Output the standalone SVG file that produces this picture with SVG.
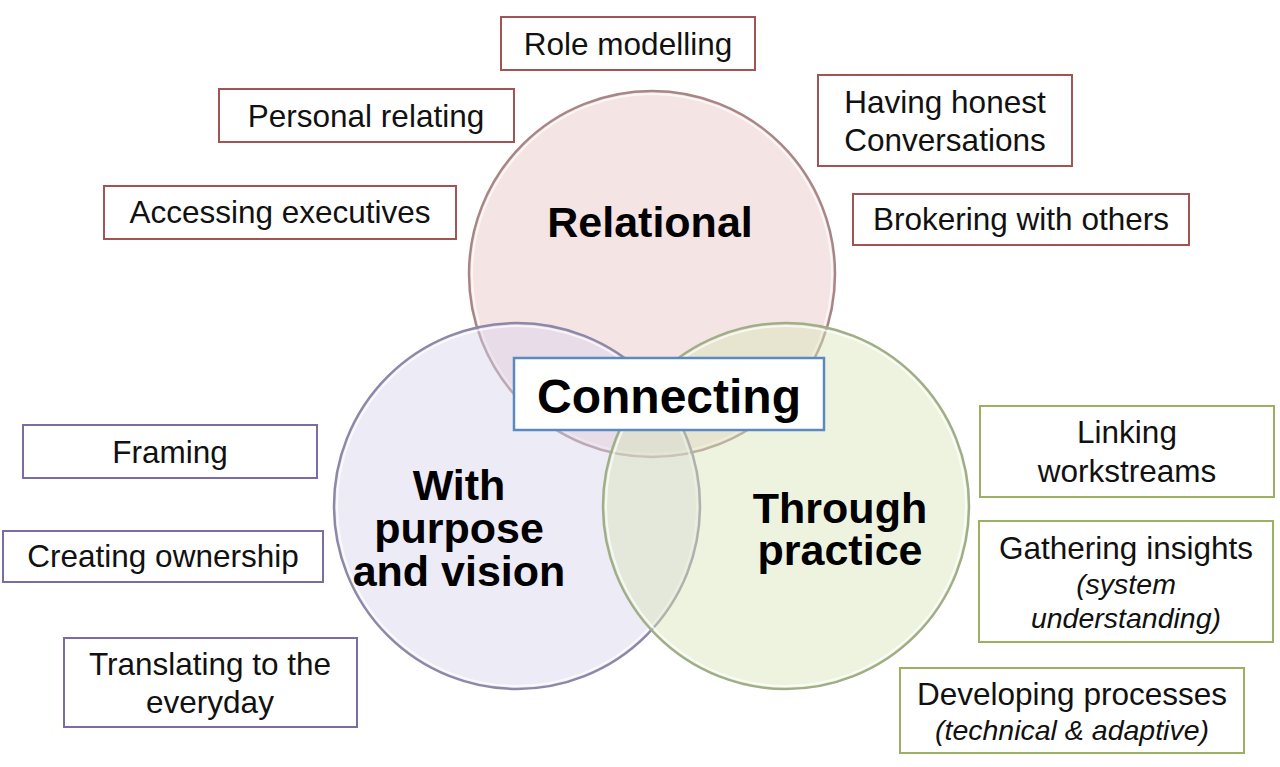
<svg xmlns="http://www.w3.org/2000/svg" width="1280" height="767" viewBox="0 0 1280 767">
<style>
.bg{fill:#ffffff}
.box{fill:#ffffff;stroke-width:2}
.rel{stroke:#a05554}
.pur{stroke:#7c6ca6}
.grn{stroke:#9bb060}
.t{font-family:"Liberation Sans",Arial,sans-serif;font-size:31.5px;fill:#111;text-anchor:middle}
.ti{font-family:"Liberation Sans",Arial,sans-serif;font-size:28.5px;font-style:italic;fill:#111;text-anchor:middle}
.b{font-family:"Liberation Sans",Arial,sans-serif;font-weight:bold;font-size:43px;fill:#000;text-anchor:middle}
.circ{stroke-width:2.5;fill-opacity:0.45}
.hl{fill:none;stroke:#ffffff;stroke-width:2;stroke-opacity:0.7}
</style>
<rect class="bg" x="0" y="0" width="1280" height="767"/>
<g id="circles">
<g id="circle-relational">
<circle class="circ" cx="652" cy="274" r="183" fill="#e8c4c4" stroke="#a88686"/>
<circle class="hl" cx="652" cy="274" r="180"/>
</g>
<g id="circle-purpose">
<circle class="circ" cx="517" cy="506" r="183" fill="#d6d2ea" stroke="#8e88a8"/>
<circle class="hl" cx="517" cy="506" r="180"/>
</g>
<g id="circle-practice">
<circle class="circ" cx="786" cy="506" r="183" fill="#d8e4b8" stroke="#a0ae88"/>
<circle class="hl" cx="786" cy="506" r="180"/>
</g>
</g>
<g id="connectors"></g>
<g id="label-relational"><text class="b" x="650" y="237">Relational</text></g>
<g id="label-purpose">
<text class="b" x="459" y="500">With</text>
<text class="b" x="459" y="543">purpose</text>
<text class="b" x="459" y="586">and vision</text>
</g>
<g id="label-practice">
<text class="b" x="840" y="523">Through</text>
<text class="b" x="840" y="565">practice</text>
</g>
<g id="connecting">
<rect x="514" y="358" width="310" height="72" fill="#ffffff" stroke="#5b8ac0" stroke-width="2.5"/>
<text class="b" x="669" y="413" style="font-size:48px">Connecting</text>
</g>
<g id="role-modelling">
<rect class="box rel" x="501" y="17" width="254" height="53"/>
<text class="t" x="628" y="55">Role modelling</text>
</g>
<g id="personal-relating">
<rect class="box rel" x="219" y="89" width="295" height="53"/>
<text class="t" x="366" y="127">Personal relating</text>
</g>
<g id="honest-conversations">
<rect class="box rel" x="818" y="75" width="254" height="91"/>
<text class="t" x="945" y="113">Having honest</text>
<text class="t" x="945" y="151">Conversations</text>
</g>
<g id="accessing-executives">
<rect class="box rel" x="104" y="186" width="352" height="53"/>
<text class="t" x="280" y="223">Accessing executives</text>
</g>
<g id="brokering">
<rect class="box rel" x="853" y="194" width="336" height="51"/>
<text class="t" x="1021" y="230">Brokering with others</text>
</g>
<g id="framing">
<rect class="box pur" x="23" y="425" width="294" height="53"/>
<text class="t" x="170" y="463">Framing</text>
</g>
<g id="creating-ownership">
<rect class="box pur" x="3" y="531" width="320" height="51"/>
<text class="t" x="163" y="567">Creating ownership</text>
</g>
<g id="translating">
<rect class="box pur" x="64" y="638" width="293" height="89"/>
<text class="t" x="210" y="675">Translating to the</text>
<text class="t" x="210" y="713">everyday</text>
</g>
<g id="linking">
<rect class="box grn" x="980" y="406" width="294" height="91"/>
<text class="t" x="1127" y="443">Linking</text>
<text class="t" x="1127" y="482">workstreams</text>
</g>
<g id="gathering">
<rect class="box grn" x="979" y="521" width="294" height="121"/>
<text class="t" x="1126" y="559">Gathering insights</text>
<text class="ti" x="1126" y="594">(system</text>
<text class="ti" x="1126" y="628">understanding)</text>
</g>
<g id="developing">
<rect class="box grn" x="900" y="668" width="344" height="85"/>
<text class="t" x="1072" y="705">Developing processes</text>
<text class="ti" x="1072" y="740">(technical &amp; adaptive)</text>
</g>
</svg>
